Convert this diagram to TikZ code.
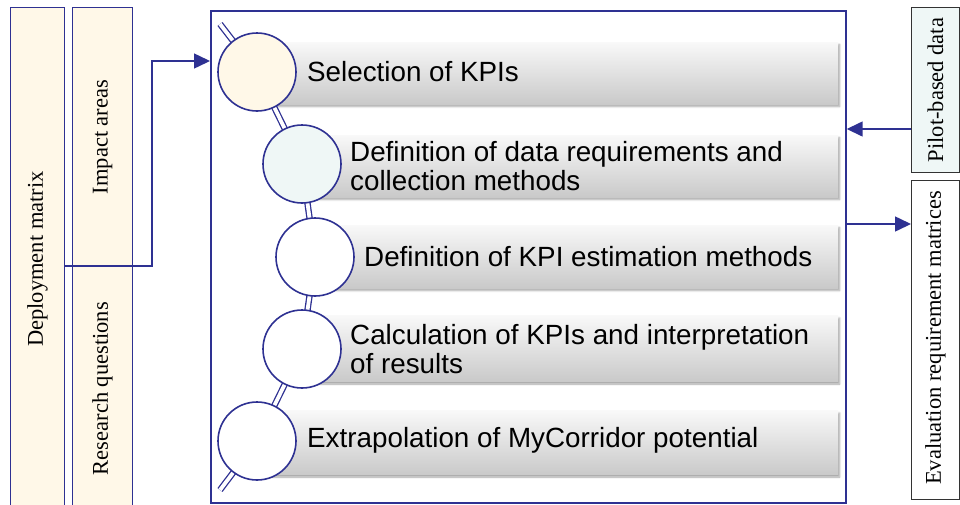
\documentclass[tikz,border=0pt]{standalone}
\usepackage{fontspec}
\setmainfont{Liberation Serif}
\setsansfont{Liberation Sans}
\usetikzlibrary{arrows.meta,shadows.blur}
\definecolor{bl}{HTML}{2E3192}
\definecolor{cream}{HTML}{FFF8E8}
\definecolor{mint}{HTML}{EFF7F6}
\definecolor{dk}{HTML}{333333}
\begin{document}
\begin{tikzpicture}[x=1pt,y=-1pt,
  lbox/.style={draw=bl, line width=1.1pt, fill=cream, inner sep=0pt, anchor=north west},
  rbox/.style={draw=dk, line width=1pt, inner sep=0pt, anchor=north west},
  vlbl/.style={rotate=90, inner sep=0pt, font=\fontsize{22.5}{24}\selectfont},
  bar/.style={anchor=west, inner sep=0pt, top color=gray!5, bottom color=gray!42,
    blur shadow={shadow xshift=1.5pt, shadow yshift=-2.5pt, shadow blur steps=6, shadow opacity=35}},
  circ/.style={circle, draw=bl, line width=1.6pt, fill=white, minimum size=78pt, inner sep=0pt},
  txt/.style={anchor=west, inner sep=0pt, align=left, font=\sffamily\fontsize{27.8}{28.5}\selectfont},
  arr/.style={draw=bl, line width=1.5pt, -{Triangle[length=16pt,width=15pt]}},
  spine/.style={draw=bl, double=white, line width=1.3pt, double distance=3.8pt}
]
\useasboundingbox (0,0) rectangle (960,504);
% left boxes
\node[lbox, minimum width=54pt, minimum height=503pt] (dep) at (10,7) {};
\node[vlbl] (deplbl) at (dep.center) {Deployment matrix};
\node[lbox, minimum width=60pt, minimum height=259pt] (ia) at (72,7) {};
\node[vlbl] (ialbl) at (ia.center) {Impact areas};
\node[lbox, minimum width=60pt, minimum height=244pt] (rq) at (72,266) {};
\node[vlbl] (rqlbl) at (rq.center) {Research questions};
% main box
\node[draw=bl, line width=1.7pt, minimum width=635pt, minimum height=492pt, inner sep=0pt, anchor=north west] (main) at (210,10) {};
% right boxes
\node[rbox, fill=mint, minimum width=48pt, minimum height=165pt] (pilot) at (911,7) {};
\node[vlbl] (pilotlbl) at (pilot.center) {Pilot-based data};
\node[rbox, fill=white, minimum width=48pt, minimum height=319pt] (eval) at (911,180) {};
\node[vlbl] (evallbl) at ([yshift=2pt]eval.center) {Evaluation requirement matrices};
% bars
\node[bar, minimum width=581pt, minimum height=62pt] (b1) at (257,73) {};
\node[bar, minimum width=536pt, minimum height=62pt] (b2) at (302,166) {};
\node[bar, minimum width=523pt, minimum height=63pt] (b3) at (315,256.5) {};
\node[bar, minimum width=536pt, minimum height=66pt] (b4) at (302,348.5) {};
\node[bar, minimum width=581pt, minimum height=64pt] (b5) at (257,442.5) {};
% spine
\coordinate (st) at (220,24);
\coordinate (en) at (220,490);
\coordinate (p1) at (257,72);
\coordinate (p2) at (302,164);
\coordinate (p3) at (315,257);
\coordinate (p4) at (302,349);
\coordinate (p5) at (257,441);
\draw[spine] (st) -- (p1) -- (p2) -- (p3) -- (p4) -- (p5) -- (en);
% circles
\node[circ, fill=cream] (c1) at (p1) {};
\node[circ, fill=mint] (c2) at (p2) {};
\node[circ] (c3) at (p3) {};
\node[circ] (c4) at (p4) {};
\node[circ] (c5) at (p5) {};
% texts
\node[txt] (t1) at (307,72) {Selection of KPIs};
\node[txt] (t2) at (350,166) {Definition of data requirements and\\collection methods};
\node[txt] (t3) at (364,257) {Definition of KPI estimation methods};
\node[txt] (t4) at (350,349) {Calculation of KPIs and interpretation\\of results};
\node[txt] (t5) at (307,440) {Extrapolation of MyCorridor potential};
% connectors
\coordinate (k1) at (152,266);
\coordinate (k2) at (152,61);
\draw[arr] (dep.east |- rq.north) -- (k1) -- (k2) -- (main.west |- k2);
\coordinate (pa) at (911,129);
\draw[arr] (pilot.west |- pa) -- (main.east |- pa);
\coordinate (ea) at (845,224);
\draw[arr] (main.east |- ea) -- (eval.west |- ea);
\end{tikzpicture}
\end{document}
